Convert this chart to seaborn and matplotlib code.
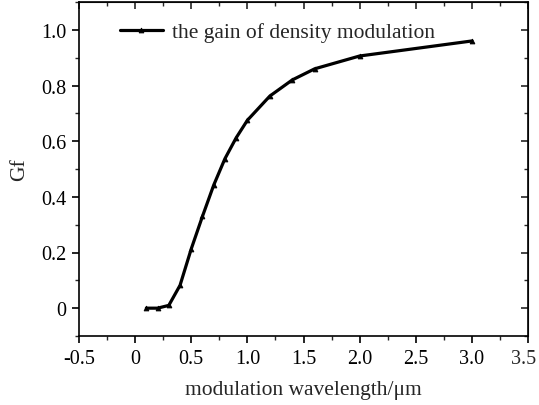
import matplotlib
matplotlib.use("Agg")
import matplotlib.pyplot as plt
from matplotlib.ticker import MultipleLocator, FuncFormatter
import seaborn as sns
import pandas as pd

# Gain of density modulation versus modulation wavelength
wavelength_um = [0.1, 0.2, 0.3, 0.4, 0.5, 0.6, 0.7, 0.8, 0.9, 1.0, 1.2, 1.4, 1.6, 2.0, 3.0]
gain = [0.0, 0.0, 0.01, 0.082, 0.213, 0.33, 0.442, 0.537, 0.612, 0.675, 0.762, 0.82, 0.86, 0.906, 0.96]
series_label = "the gain of density modulation"
x_max = 3.5

df = pd.DataFrame({"wavelength": wavelength_um, "Gf": gain})

sns.set_style("ticks")
plt.rcParams["font.family"] = ["Liberation Serif", "DejaVu Serif"]

fig = plt.figure(figsize=(5.39, 4.06), dpi=100)
ax = fig.add_axes([79 / 539, 1 - 337 / 406, (528 - 79) / 539, (337 - 3) / 406])

sns.lineplot(data=df, x="wavelength", y="Gf", ax=ax, color="black",
             linewidth=2.3, marker="^", markersize=3.5, markeredgewidth=0.6,
             markeredgecolor="black", markerfacecolor="black",
             label=series_label)

ax.set_xlim(-0.5, x_max)
ax.set_ylim(-0.1, 1.1)
ax.xaxis.set_major_locator(MultipleLocator(0.5))
ax.xaxis.set_minor_locator(MultipleLocator(0.25))
ax.set_yticks([0, 0.2, 0.4, 0.6, 0.8, 1.0])
ax.yaxis.set_minor_locator(MultipleLocator(0.1))


def fmt(v, _pos):
    if abs(v) < 1e-9:
        return "0"
    return f"{v:.1f}"


def xfmt(v, pos):
    # the rightmost label is placed separately so it stays on the canvas
    if abs(v - x_max) < 1e-9:
        return ""
    return fmt(v, pos)


ax.xaxis.set_major_formatter(FuncFormatter(xfmt))
ax.yaxis.set_major_formatter(FuncFormatter(fmt))

for side in ["left", "right", "top", "bottom"]:
    ax.spines[side].set_visible(True)
    ax.spines[side].set_linewidth(1.2)
    ax.spines[side].set_color("black")

label_size = 14.5
tick_len, tick_pad = 5, 4
ax.tick_params(axis="both", which="major", direction="out", length=tick_len, width=1.2,
               labelsize=label_size, colors="black", pad=tick_pad)
ax.tick_params(axis="both", which="minor", direction="out", length=3, width=1.0)
# top/right ticks point inward, without labels
ax2 = ax.secondary_xaxis("top")
ax2.xaxis.set_major_locator(MultipleLocator(0.5))
ax2.xaxis.set_minor_locator(MultipleLocator(0.25))
ax2.tick_params(which="major", direction="in", length=5, width=1.2, labeltop=False)
ax2.tick_params(which="minor", direction="in", length=3, width=1.0)
ay2 = ax.secondary_yaxis("right")
ay2.set_yticks([0, 0.2, 0.4, 0.6, 0.8, 1.0])
ay2.yaxis.set_minor_locator(MultipleLocator(0.1))
ay2.tick_params(which="major", direction="in", length=5, width=1.2, labelright=False)
ay2.tick_params(which="minor", direction="in", length=3, width=1.0)

ax.annotate(fmt(x_max, None), xy=(x_max, 0), xycoords=ax.get_xaxis_transform(),
            xytext=(-3, -(tick_len + tick_pad)), textcoords="offset points",
            ha="center", va="top", fontsize=label_size, annotation_clip=False)

ax.set_xlabel("modulation wavelength/μm", fontsize=15.5, labelpad=9)
ax.set_ylabel("Gf", fontsize=15.5, labelpad=9)

leg = ax.legend(loc="upper left", frameon=False, fontsize=15.5, handlelength=2.0,
                handletextpad=0.4, borderaxespad=0.0, bbox_to_anchor=(0.072, 0.965))

fig.savefig("out.png", dpi=100)
